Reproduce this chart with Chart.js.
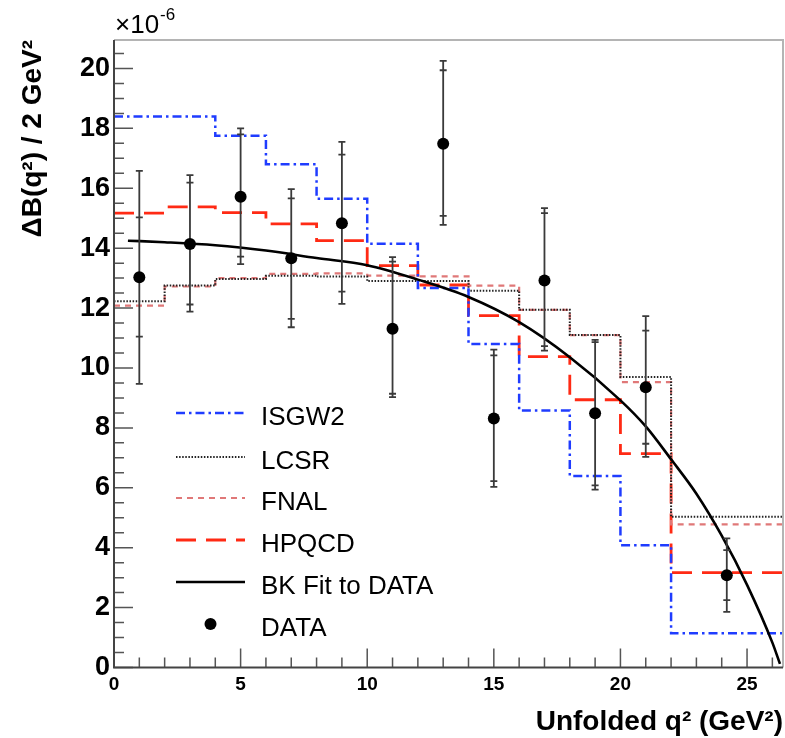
<!DOCTYPE html>
<html>
<head>
<meta charset="utf-8">
<script src="https://cdn.jsdelivr.net/npm/chart.js@4.4.1/dist/chart.umd.min.js"></script>
<style>
  html, body { margin: 0; padding: 0; background: #fff; }
  canvas { display: block; }
</style>
</head>
<body>
<canvas id="chart" width="785" height="738"></canvas>
<script>
// bin edges of the model histograms (GeV^2)
const binEdges = [0, 2, 4, 6, 8, 10, 12, 14, 16, 18, 20, 22, 26.4];

// model predictions per bin (x 10^-6)
const isgw2 = [18.4, 18.4, 17.75, 16.8, 15.65, 14.15, 12.67, 10.8, 8.58, 6.39, 4.08, 1.14];
const lcsr  = [12.23, 12.75, 12.97, 13.08, 13.05, 12.9, 12.9, 12.58, 11.94, 11.1, 9.7, 5.03];
const fnal  = [12.08, 12.72, 13.0, 13.14, 13.16, 13.08, 13.06, 12.75, 11.94, 11.1, 9.53, 4.78];
const hpqcd = [15.17, 15.38, 15.19, 14.81, 14.25, 13.42, 12.77, 11.75, 10.38, 8.94, 7.14, 3.17];

// BK fit curve
const fitX = [0.55, 2, 4, 6, 8, 10, 12, 14, 16, 18, 20, 21, 22, 23, 24, 25, 26, 26.3];
const fitY = [14.25, 14.2, 14.1, 13.92, 13.67, 13.43, 12.95, 12.37, 11.53, 10.36, 8.92, 8.05, 6.95, 5.8, 4.4, 2.76, 0.83, 0.12];

// data points with stat and total errors
const dataX  = [1, 3, 5, 7, 9, 11, 13, 15, 17, 19, 21, 24.2];
const dataY  = [13.03, 14.14, 15.72, 13.66, 14.83, 11.31, 17.49, 8.31, 12.92, 8.49, 9.36, 3.08];
const statHi = [15.03, 16.19, 17.8, 15.66, 17.12, 13.55, 19.94, 10.42, 15.17, 10.86, 11.25, 3.92];
const totHi  = [16.58, 16.44, 18.0, 15.97, 17.55, 13.7, 20.25, 10.61, 15.34, 10.94, 11.73, 4.31];
const statLo = [11.05, 12.12, 13.72, 11.64, 12.55, 9.14, 15.08, 6.22, 10.73, 6.08, 7.47, 2.25];
const totLo  = [9.47, 11.88, 13.47, 11.36, 12.14, 9.03, 14.78, 6.03, 10.58, 5.94, 7.03, 1.86];

// axis ticks
const xTicks = [0, 5, 10, 15, 20, 25];
const yTicks = [0, 2, 4, 6, 8, 10, 12, 14, 16, 18, 20];
const xMax = 26.42;
const yMax = 20.95;

const FONT = '"Liberation Sans", Arial, Helvetica, sans-serif';

// turn per-bin values into points for a stepped line
function stepPoints(values) {
    const pts = values.map((v, i) => ({ x: binEdges[i], y: v }));
    pts.push({ x: binEdges[binEdges.length - 1], y: values[values.length - 1] });
    return pts;
}

function histDataset(label, values, color, dash, width) {
    return {
        label: label,
        data: stepPoints(values),
        showLine: true,
        stepped: 'before', // horizontal first, then the vertical jump
        borderColor: color,
        borderDash: dash,
        borderWidth: width,
        pointRadius: 0,
        fill: false,
        order: 2
    };
}

const datasets = [
    histDataset('ISGW2', isgw2, '#1f3cff', [9, 4, 2.5, 4], 2.5),
    histDataset('LCSR', lcsr, '#222222', [1.5, 1.6], 2),
    histDataset('FNAL', fnal, '#e07878', [6, 5], 2.2),
    histDataset('HPQCD', hpqcd, '#ff2a14', [20, 10], 2.8),
    {
        label: 'BK Fit to DATA',
        data: fitX.map((x, i) => ({ x: x, y: fitY[i] })),
        showLine: true,
        cubicInterpolationMode: 'monotone',
        borderColor: '#000',
        borderWidth: 2.6,
        pointRadius: 0,
        fill: false,
        order: 1
    },
    {
        label: 'DATA',
        data: dataX.map((x, i) => ({ x: x, y: dataY[i] })),
        showLine: false,
        pointRadius: 6,
        pointBackgroundColor: '#000',
        pointBorderColor: '#000',
        pointBorderWidth: 0,
        order: 0
    }
];
const dataIndex = datasets.length - 1;

// error bars, frame, minor ticks and the legend drawn in ROOT style
const rootStyle = {
    id: 'rootStyle',
    beforeDatasetDraw(chart, args) {
        if (args.index !== dataIndex) return;
        const ctx = chart.ctx;
        const xs = chart.scales.x, ys = chart.scales.y;
        ctx.save();
        ctx.strokeStyle = '#3a3a3a';
        ctx.lineWidth = 1.8;
        dataX.forEach((x, i) => {
            const px = xs.getPixelForValue(x);
            ctx.beginPath();
            ctx.moveTo(px, ys.getPixelForValue(totLo[i]));
            ctx.lineTo(px, ys.getPixelForValue(totHi[i]));
            [statLo[i], statHi[i], totLo[i], totHi[i]].forEach(v => {
                const py = ys.getPixelForValue(v);
                ctx.moveTo(px - 3.5, py);
                ctx.lineTo(px + 3.5, py);
            });
            ctx.stroke();
        });
        ctx.restore();
    },
    afterDatasetsDraw(chart) {
        const ctx = chart.ctx;
        const a = chart.chartArea;
        const xs = chart.scales.x, ys = chart.scales.y;
        ctx.save();

        // ticks inside the frame
        ctx.strokeStyle = '#555';
        ctx.lineWidth = 1.5;
        ctx.beginPath();
        for (let i = 0; i * 0.5 <= yMax; i++) {
            const py = ys.getPixelForValue(i * 0.5);
            ctx.moveTo(a.left, py);
            ctx.lineTo(a.left + (i % 4 === 0 ? 19 : 10), py);
        }
        for (let i = 0; i <= xMax; i++) {
            const px = xs.getPixelForValue(i);
            ctx.moveTo(px, a.bottom);
            ctx.lineTo(px, a.bottom - (i % 5 === 0 ? 19 : 10));
        }
        ctx.stroke();

        // frame
        ctx.lineWidth = 2;
        ctx.strokeStyle = '#b4b4b4';
        ctx.beginPath();
        ctx.moveTo(a.left, a.top);
        ctx.lineTo(a.right, a.top);
        ctx.lineTo(a.right, a.bottom);
        ctx.stroke();
        ctx.strokeStyle = '#444';
        ctx.beginPath();
        ctx.moveTo(a.left, a.top);
        ctx.lineTo(a.left, a.bottom);
        ctx.lineTo(a.right, a.bottom);
        ctx.stroke();

        // exponent label
        ctx.fillStyle = '#000';
        ctx.textBaseline = 'middle';
        ctx.textAlign = 'left';
        ctx.font = '26px ' + FONT;
        ctx.fillText('\u00d710', a.left + 1, 26);
        const w = ctx.measureText('\u00d710').width;
        ctx.font = '17px ' + FONT;
        ctx.fillText('-6', a.left + 2 + w, 15);

        // legend
        const lx0 = a.left + 62, lx1 = a.left + 131, tx = a.left + 147;
        const rowY = [413, 457, 498, 540, 582, 624];
        datasets.forEach((ds, i) => {
            const y = rowY[i];
            if (i === dataIndex) {
                ctx.beginPath();
                ctx.fillStyle = '#000';
                ctx.arc((lx0 + lx1) / 2, y, 6, 0, Math.PI * 2);
                ctx.fill();
            } else {
                ctx.beginPath();
                ctx.strokeStyle = ds.borderColor;
                ctx.lineWidth = ds.borderWidth;
                ctx.setLineDash(ds.borderDash || []);
                ctx.moveTo(lx0, y);
                ctx.lineTo(lx1, y);
                ctx.stroke();
                ctx.setLineDash([]);
            }
            ctx.fillStyle = '#000';
            ctx.font = '26px ' + FONT;
            ctx.textBaseline = 'middle';
            ctx.fillText(ds.label, tx, y + 5);
        });
        ctx.restore();
    }
};

new Chart(document.getElementById('chart'), {
    type: 'scatter',
    data: { datasets: datasets },
    options: {
        responsive: false,
        animation: false,
        devicePixelRatio: 1,
        layout: { autoPadding: false, padding: { top: 40, right: 2, left: 0, bottom: 0 } },
        plugins: {
            legend: { display: false },
            tooltip: { enabled: false }
        },
        scales: {
            x: {
                type: 'linear',
                min: 0,
                max: xMax,
                afterBuildTicks: s => { s.ticks = xTicks.map(v => ({ value: v })); },
                afterFit: s => { s.height = 70.5; },
                grid: { display: false, drawTicks: false },
                border: { display: false },
                ticks: {
                    color: '#000',
                    padding: 6,
                    maxRotation: 0,
                    autoSkip: false,
                    font: { family: FONT, size: 19, weight: 'bold' }
                },
                title: {
                    display: true,
                    text: 'Unfolded q\u00b2 (GeV\u00b2)',
                    align: 'end',
                    color: '#000',
                    padding: { top: 0, bottom: 1.5 },
                    font: { family: FONT, size: 28, weight: 'bold', lineHeight: 1 }
                }
            },
            y: {
                type: 'linear',
                min: 0,
                max: yMax,
                afterBuildTicks: s => { s.ticks = yTicks.map(v => ({ value: v })); },
                afterFit: s => { s.width = 114; },
                grid: { display: false, drawTicks: false },
                border: { display: false },
                ticks: {
                    color: '#000',
                    padding: 4,
                    autoSkip: false,
                    font: { family: FONT, size: 27, weight: 'bold' }
                },
                title: {
                    display: true,
                    text: '\u0394B(q\u00b2) / 2 GeV\u00b2',
                    align: 'end',
                    color: '#000',
                    padding: { top: 19, bottom: 0 },
                    font: { family: FONT, size: 28, weight: 'bold', lineHeight: 1 }
                }
            }
        }
    },
    plugins: [rootStyle]
});
</script>
</body>
</html>
